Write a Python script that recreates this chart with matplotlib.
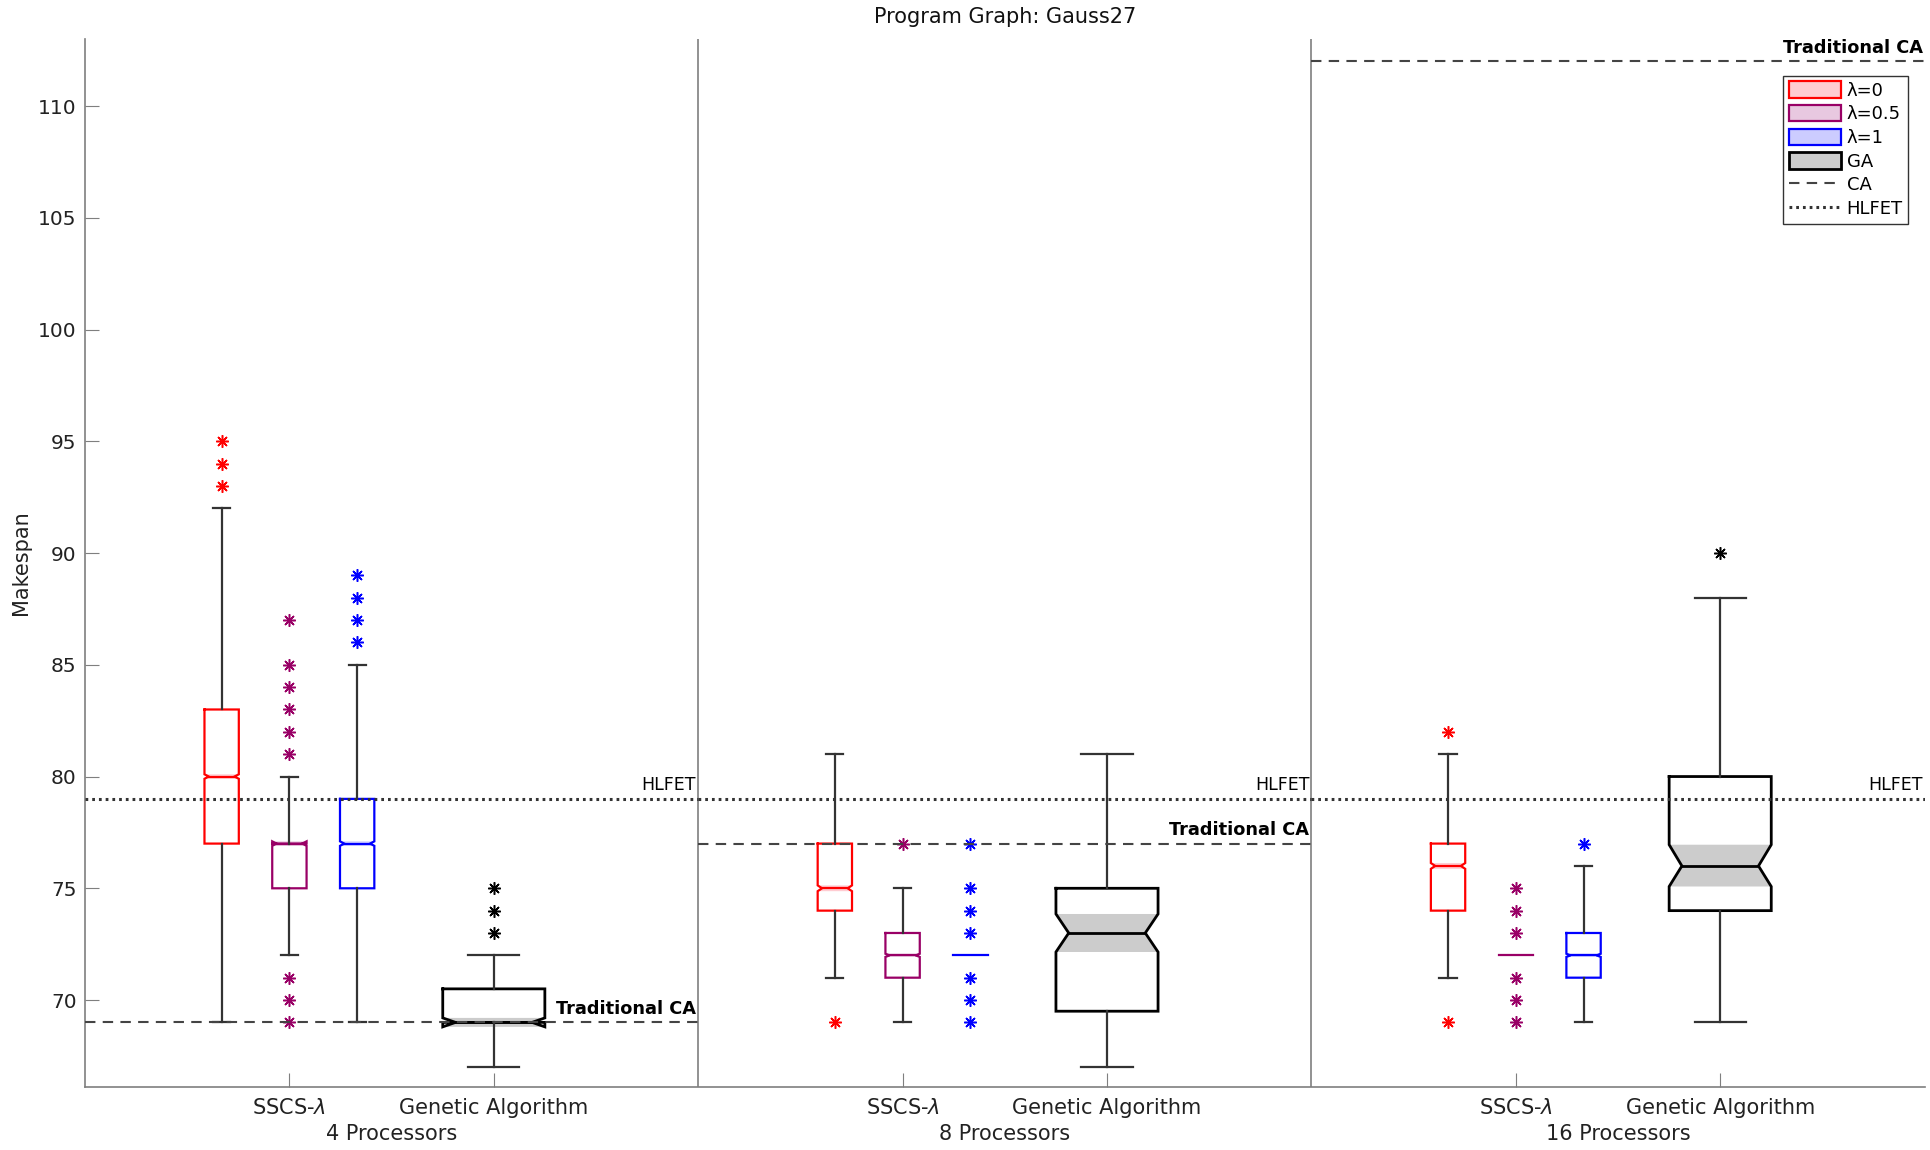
import matplotlib
matplotlib.use("Agg")
import matplotlib.pyplot as plt
from matplotlib.patches import Patch
from matplotlib.lines import Line2D

# ---- data ----
groups = ["4 Processors", "8 Processors", "16 Processors"]
series = ["λ=0", "λ=0.5", "λ=1", "GA"]

# per group, per series: [λ=0, λ=0.5, λ=1, GA]
q1 = [[77, 75, 75, 69], [74, 71, 72, 69.5], [74, 72, 71, 74]]
med = [[80, 77, 77, 69], [75, 72, 72, 73], [76, 72, 72, 76]]
q3 = [[83, 77, 79, 70.5], [77, 73, 72, 75], [77, 72, 73, 80]]
whisk_lo = [[69, 72, 69, 67], [71, 69, 72, 67], [71, 72, 69, 69]]
whisk_hi = [[92, 80, 85, 72], [81, 75, 72, 81], [81, 72, 76, 88]]
notch_lo = [[79.9, 76.9, 76.9, 68.8], [74.87, 71.93, 72, 72.15], [75.87, 72, 71.93, 75.08]]
notch_hi = [[80.1, 77.1, 77.1, 69.2], [75.13, 72.07, 72, 73.85], [76.13, 72, 72.07, 76.95]]
outliers = [
    [[93, 94, 95], [69, 70, 71, 81, 82, 83, 84, 85, 87], [86, 87, 88, 89], [73, 74, 75]],
    [[69], [77], [69, 70, 71, 73, 74, 75, 77], []],
    [[69, 82], [69, 70, 71, 73, 74, 75], [77], [90]],
]
ca_value = [69, 77, 112]
hlfet_value = [79, 79, 79]

# ---- styles ----
edge_colors = ["#ff0000", "#990066", "#0000ff", "#000000"]
fill_colors = ["#ffccd2", "#e8c8e0", "#ccccff", "#cccccc"]
offsets = [1 / 3 - 0.1105, 1 / 3, 1 / 3 + 0.1105, 2 / 3]
widths = [0.056, 0.056, 0.056, 0.1665]
box_lw = [1.6, 1.6, 1.6, 2.0]
grey = "#7f7f7f"
whisk_color = "#333333"


def draw_box(ax, x, w, lo, a, m, b, hi, nlo, nhi, out, color, fill, lw):
    d = 0.125 * w
    L, R = x - w / 2, x + w / 2
    if nhi > nlo:
        ax.fill([L, R, R - d, R, L, L + d], [nhi, nhi, m, nlo, nlo, m],
                color=fill, lw=0, zorder=1)
    if b > a:
        xs = [L, R, R, R - d, R, R, L, L, L + d, L, L]
        ys = [b, b, nhi, m, nlo, a, a, nlo, m, nhi, b]
        ax.plot(xs, ys, color=color, lw=lw, zorder=2, solid_joinstyle="miter")
        ax.plot([L + d, R - d], [m, m], color=color, lw=lw, zorder=2)
    else:
        ax.plot([L, R], [m, m], color=color, lw=lw, zorder=2)
    if hi > b:
        ax.plot([x, x], [b, hi], color=whisk_color, lw=1.6, zorder=2)
        ax.plot([x - w / 4, x + w / 4], [hi, hi], color=whisk_color, lw=1.6, zorder=2)
    if lo < a:
        ax.plot([x, x], [lo, a], color=whisk_color, lw=1.6, zorder=2)
        ax.plot([x - w / 4, x + w / 4], [lo, lo], color=whisk_color, lw=1.6, zorder=2)
    if out:
        ax.plot([x] * len(out), out, ls="none", marker=(8, 2, 0), ms=9,
                mew=1.1, color=color, zorder=3)


fig = plt.figure(figsize=(19.3, 11.5), dpi=100)
ax = fig.add_axes([85 / 1930, 1 - 1087.2 / 1150, 1839.6 / 1930, (1087.2 - 39) / 1150])

for g in range(len(groups)):
    for s in range(len(series)):
        draw_box(ax, g + offsets[s], widths[s], whisk_lo[g][s], q1[g][s], med[g][s],
                 q3[g][s], whisk_hi[g][s], notch_lo[g][s], notch_hi[g][s],
                 outliers[g][s], edge_colors[s], fill_colors[s], box_lw[s])
    # reference lines per group
    ax.plot([g, g + 1], [ca_value[g]] * 2, color="#444444", lw=1.5,
            ls=(0, (5, 3.5)), zorder=3)
    ax.plot([g, g + 1], [hlfet_value[g]] * 2, color="#333333", lw=2.2,
            ls=(0, (0.9, 1.3)), zorder=3)
    ax.annotate("Traditional CA", (g + 1, ca_value[g]), xytext=(-1.5, 3),
                textcoords="offset points", ha="right", va="bottom",
                fontsize=12.8, fontweight="bold")
    ax.annotate("HLFET", (g + 1, hlfet_value[g]), xytext=(-1.5, 3.5),
                textcoords="offset points", ha="right", va="bottom", fontsize=12.5)
    if g > 0:
        ax.axvline(g, color=grey, lw=1.2, zorder=0)
    fig.text((85 + (g + 0.5) * 613.2) / 1930, 1 - 1134 / 1150, groups[g],
             ha="center", va="center", fontsize=15, color="#222222")

ax.set_xlim(0, 3)
ax.set_ylim(66.1, 113.0)
ax.set_yticks(range(70, 111, 5))
ax.set_xticks([g + o for g in range(3) for o in (1 / 3, 2 / 3)])
ax.set_xticklabels(["SSCS-$\\lambda$", "Genetic Algorithm"] * 3)
ax.tick_params(axis="both", direction="in", length=10, color=grey,
               labelsize=14.5, labelcolor="#222222")
ax.tick_params(axis="x", pad=8, labelsize=15)
ax.tick_params(axis="y", pad=6)
for side in ("top", "right"):
    ax.spines[side].set_visible(False)
for side in ("left", "bottom"):
    ax.spines[side].set_color(grey)
    ax.spines[side].set_linewidth(1.2)

fig.text(21 / 1930, 1 - 563 / 1150, "Makespan", rotation=90, ha="center",
         va="center", fontsize=15, color="#222222")
fig.text(1004.8 / 1930, 1 - 17 / 1150, "Program Graph: Gauss27", ha="center",
         va="center", fontsize=15, color="#111111")

handles = [Patch(facecolor=fill_colors[i], edgecolor=edge_colors[i], lw=1.6)
           for i in range(3)]
handles.append(Patch(facecolor=fill_colors[3], edgecolor="#000000", lw=2.0))
handles.append(Line2D([], [], color="#444444", lw=1.5, ls=(0, (5, 3.5))))
handles.append(Line2D([], [], color="#333333", lw=2.2, ls=(0, (0.9, 1.3))))
leg = ax.legend(handles, series + ["CA", "HLFET"], loc="upper right",
                bbox_to_anchor=(0.991, 0.9647), borderaxespad=0, fontsize=13,
                handlelength=2.9, handleheight=1.0, handletextpad=0.3,
                labelspacing=0.3, borderpad=0.3, fancybox=False, framealpha=1)
leg.get_frame().set_edgecolor("#333333")
leg.get_frame().set_linewidth(1.0)

fig.savefig("out.png", dpi=100)
